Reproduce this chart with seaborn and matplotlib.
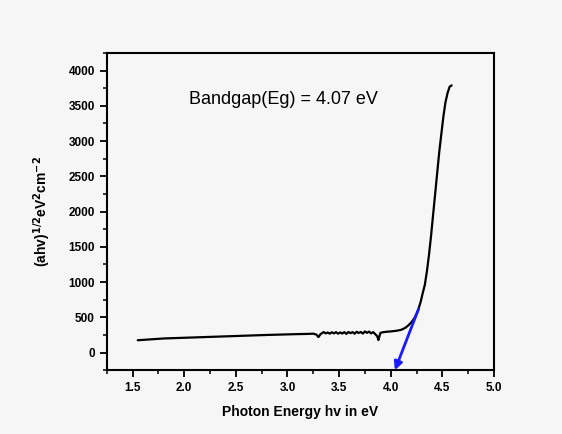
import numpy as np
import pandas as pd
import matplotlib
matplotlib.use('Agg')
import matplotlib.pyplot as plt
import seaborn as sns
from matplotlib.ticker import MultipleLocator

# Tauc plot values
energy = [1.55, 1.60, 1.70, 1.80, 2.00, 2.20, 2.40, 2.60, 2.80, 3.00, 3.10, 3.20,
          3.25, 3.28, 3.30, 3.32, 3.35, 3.37, 3.39, 3.41, 3.43, 3.45, 3.47, 3.49,
          3.51, 3.53, 3.55, 3.57, 3.59, 3.61, 3.63, 3.65, 3.67, 3.69, 3.71, 3.73,
          3.75, 3.77, 3.79, 3.81, 3.83, 3.85, 3.87, 3.88, 3.90, 3.93, 3.96, 4.00,
          4.05, 4.10, 4.14, 4.17, 4.20, 4.23, 4.26, 4.29, 4.31, 4.33, 4.35, 4.37,
          4.39, 4.41, 4.43, 4.45, 4.47, 4.49, 4.51, 4.53, 4.55, 4.57, 4.59]
tauc = [175, 180, 190, 200, 210, 220, 230, 240, 250, 258, 262, 265,
        268, 255, 220, 262, 290, 272, 285, 268, 288, 272, 290, 268,
        286, 270, 290, 265, 292, 275, 290, 268, 295, 278, 292, 270,
        300, 280, 298, 272, 290, 262, 230, 178, 280, 290, 295, 300,
        308, 322, 350, 385, 430, 490, 580, 720, 845, 960, 1150, 1380,
        1650, 1950, 2250, 2550, 2850, 3100, 3350, 3550, 3680, 3770, 3790]

fit_x = [4.27, 4.04]
fit_y = [620, -250]
bandgap_text = 'Bandgap(Eg) = 4.07 eV'

df = pd.DataFrame({'Energy': energy, 'Tauc': tauc})

sns.set_style('ticks')
plt.rcParams['font.family'] = ['Liberation Sans', 'DejaVu Sans']
plt.rcParams['text.color'] = 'black'
plt.rcParams['axes.labelcolor'] = 'black'
plt.rcParams['xtick.color'] = 'black'
plt.rcParams['ytick.color'] = 'black'

fig = plt.figure(figsize=(5.62, 4.34), dpi=100, facecolor='#f6f6f6')
ax = fig.add_axes([0.190, 0.147, 0.689, 0.731])
ax.set_facecolor('#f6f6f6')

sns.lineplot(data=df, x='Energy', y='Tauc', color='black', linewidth=1.6, ax=ax, sort=False)

# extrapolated linear fit to the energy axis
ax.annotate('', xy=(fit_x[1], fit_y[1]), xytext=(fit_x[0], fit_y[0]),
            arrowprops=dict(arrowstyle='-|>', color='#1a1aff', lw=2, mutation_scale=12,
                            shrinkA=0, shrinkB=0))

ax.text(2.96, 3590, bandgap_text, fontsize=13, ha='center', va='center')

ax.set_xlim(1.25, 5.0)
ax.set_ylim(-250, 4250)
ax.xaxis.set_major_locator(MultipleLocator(0.5))
ax.xaxis.set_minor_locator(MultipleLocator(0.25))
ax.yaxis.set_major_locator(MultipleLocator(500))
ax.yaxis.set_minor_locator(MultipleLocator(250))

for side in ax.spines.values():
    side.set_visible(True)
    side.set_linewidth(1.5)
    side.set_color('black')

ax.tick_params(which='major', direction='out', length=5, width=1.3, labelsize=8.5)
ax.tick_params(which='minor', direction='out', length=3, width=1.1)
for lbl in ax.get_xticklabels() + ax.get_yticklabels():
    lbl.set_fontweight('bold')

ax.set_xlabel('Photon Energy hv in eV', fontsize=10, fontweight='bold', labelpad=8)
ax.set_ylabel(r'(ahv)$^{\mathbf{1/2}}$eV$^{\mathbf{2}}$cm$^{\mathbf{-2}}$', fontsize=10,
              fontweight='bold', labelpad=11)

plt.savefig('out.png', dpi=100, facecolor=fig.get_facecolor())
